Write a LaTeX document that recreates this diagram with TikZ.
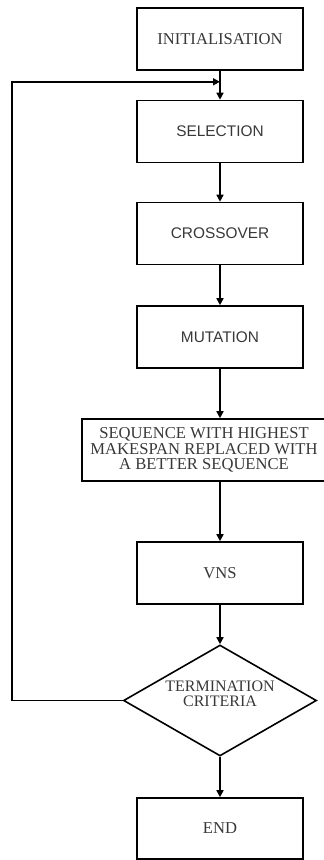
\documentclass[tikz,border=0pt]{standalone}
\usepackage{fontspec}
\setmainfont{Liberation Serif}
\newfontfamily\sansf{Liberation Sans}
\usetikzlibrary{shapes.geometric,arrows.meta,calc}
\begin{document}
\begin{tikzpicture}[x=1pt,y=1pt,
  every node/.style={text=black!78, font=\fontsize{16.6}{15.5}\selectfont},
  box/.style={draw=black, line width=1.6pt, minimum width=166pt, minimum height=62pt, inner sep=0pt, align=center},
  sbox/.style={box, font=\sansf\fontsize{15.4}{15.5}\selectfont},
  dia/.style={draw=black, line width=1.6pt, shape=diamond, minimum width=193pt, minimum height=111pt, inner sep=0pt},
  arr/.style={line width=1.6pt, -{Triangle[length=7pt,width=7pt]}}]
\useasboundingbox (0,0) rectangle (324,-860);
\node[box] (init) at (220,-39) {INITIALISATION};
\node[sbox] (sel) at (220,-131.5) {SELECTION};
\node[sbox] (cross) at (220,-233.5) {CROSSOVER};
\node[sbox] (mut) at (220,-337) {MUTATION};
\node[box, minimum width=244pt] (seq) at (204,-450) {SEQUENCE WITH HIGHEST\\MAKESPAN REPLACED WITH\\A BETTER SEQUENCE};
\node[box] (vns) at (220,-573) {VNS};
\node[dia] (term) at (220,-700.5) {};
\node[align=center, inner sep=0pt, font=\fontsize{16}{15.5}\selectfont] (termtxt) at (220,-694) {TERMINATION\\CRITERIA};
\node[box, minimum height=61pt] (end) at (220,-828.5) {END};
\draw[arr] (init) -- (sel);
\draw[arr] (sel) -- (cross);
\draw[arr] (cross) -- (mut);
\draw[arr] (mut) -- (mut.south |- seq.north);
\draw[arr] (vns.north |- seq.south) -- (vns);
\draw[arr] (vns) -- (term);
\draw[arr] (term) -- (end);
\path (init.south) ++(0,-11) coordinate (j);
\draw[arr] (term.west) -- ++(-111,0) |- (j);
\end{tikzpicture}
\end{document}
